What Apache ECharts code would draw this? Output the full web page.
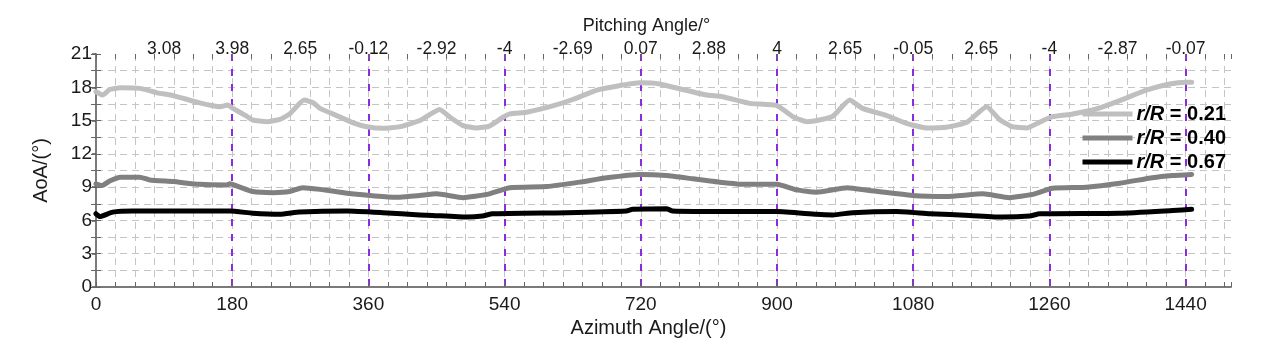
<!DOCTYPE html>
<html>
<head>
<meta charset="utf-8">
<script src="https://cdn.jsdelivr.net/npm/echarts@6/dist/echarts.min.js"></script>
<style>
html,body{margin:0;padding:0;background:#fff;}
#c{width:1265px;height:347px;}
</style>
</head>
<body>
<div id="c"></div>
<script>
// ---- data ----
var seriesNames = ['r/R = 0.21', 'r/R = 0.40', 'r/R = 0.67'];

var lightAz  = [0, 9, 18, 32, 58, 81, 102, 137, 164, 174, 181, 199, 207, 226, 243, 256, 275, 287, 296, 313, 340, 358, 379, 402, 428, 454, 468, 485, 503, 520, 538, 547, 569, 600, 630, 662, 688, 719, 745, 775, 807, 828, 864, 900, 921, 940, 956, 974, 996, 1013, 1045, 1071, 1098, 1124, 1151, 1177, 1194, 1211, 1230, 1247, 1264, 1291, 1322, 1353, 1388, 1419, 1441, 1448];
var lightAoA = [17.6, 17.3, 17.8, 17.95, 17.9, 17.5, 17.25, 16.6, 16.25, 16.4, 16.1, 15.4, 15.05, 14.9, 15.1, 15.6, 16.85, 16.6, 16.1, 15.6, 14.8, 14.45, 14.3, 14.45, 15.0, 16.0, 15.3, 14.55, 14.33, 14.5, 15.3, 15.6, 15.75, 16.25, 16.9, 17.75, 18.1, 18.4, 18.3, 17.8, 17.3, 17.15, 16.55, 16.35, 15.35, 14.9, 15.05, 15.4, 16.85, 16.1, 15.45, 14.75, 14.33, 14.4, 14.85, 16.25, 15.1, 14.45, 14.33, 14.85, 15.35, 15.6, 16.05, 16.8, 17.75, 18.3, 18.45, 18.45];

var midAz  = [0, 8, 18, 32, 58, 71, 102, 137, 173, 177, 190, 207, 234, 256, 273, 296, 332, 362, 392, 402, 428, 450, 485, 517, 547, 596, 639, 675, 719, 754, 789, 824, 860, 900, 926, 952, 993, 1022, 1079, 1124, 1172, 1207, 1238, 1264, 1309, 1353, 1396, 1423, 1448];
var midAoA = [9.3, 9.15, 9.55, 9.9, 9.9, 9.65, 9.5, 9.25, 9.2, 9.3, 9.0, 8.6, 8.5, 8.6, 8.95, 8.8, 8.45, 8.25, 8.1, 8.1, 8.25, 8.4, 8.05, 8.35, 8.95, 9.05, 9.45, 9.85, 10.15, 10.05, 9.75, 9.45, 9.25, 9.25, 8.75, 8.55, 8.95, 8.7, 8.25, 8.15, 8.4, 8.05, 8.35, 8.9, 9.0, 9.35, 9.85, 10.05, 10.15];

var darkAz  = [0, 5, 22, 49, 94, 177, 207, 243, 269, 332, 379, 428, 445, 490, 511, 524, 622, 701, 709, 754, 762, 841, 900, 952, 974, 1000, 1058, 1102, 1155, 1198, 1234, 1247, 1353, 1423, 1448];
var darkAoA = [6.6, 6.35, 6.75, 6.85, 6.85, 6.85, 6.65, 6.55, 6.75, 6.85, 6.7, 6.5, 6.45, 6.3, 6.4, 6.6, 6.7, 6.85, 7.0, 7.05, 6.85, 6.8, 6.8, 6.55, 6.5, 6.7, 6.8, 6.6, 6.45, 6.3, 6.4, 6.6, 6.65, 6.9, 7.0];

var bottomTicks = [0, 180, 360, 540, 720, 900, 1080, 1260, 1440];
var pitchAz     = [90, 180, 270, 360, 450, 540, 630, 720, 810, 900, 990, 1080, 1170, 1260, 1350, 1440];
var pitchLabels = ['3.08', '3.98', '2.65', '-0.12', '-2.92', '-4', '-2.69', '0.07', '2.88', '4', '2.65', '-0.05', '2.65', '-4', '-2.87', '-0.07'];
var yTicks = [0, 3, 6, 9, 12, 15, 18, 21];

// ---- chart ----
function zip(a, b) { return a.map(function (v, i) { return [v, b[i]]; }); }

var FONT = '"Liberation Sans", Arial, sans-serif';
var XMAX = 1500, MINOR = 180 / 7;
var gridDash = { color: '#c4c4c4', width: 1, type: [7, 5] };
var frameColor = '#7a7a7a';

var chart = echarts.init(document.getElementById('c'));
var option = {
  backgroundColor: '#fff',
  animation: false,
  textStyle: { fontFamily: FONT },
  grid: { left: 96, right: 34, top: 54, bottom: 60, containLabel: false },
  xAxis: [
    { // 0 minor bottom: gray vertical grid + inner ticks
      type: 'value', position: 'bottom', min: 0, max: XMAX, interval: MINOR,
      axisLine: { show: false }, axisLabel: { show: false },
      axisTick: { show: true, inside: true, length: 5, lineStyle: { color: '#666', width: 1 } },
      splitLine: { show: true, showMinLine: false, showMaxLine: false, lineStyle: gridDash }
    },
    { // 1 main bottom
      type: 'value', position: 'bottom', min: 0, max: XMAX, interval: 180,
      axisLine: { show: true, lineStyle: { color: '#555', width: 1.5 } },
      axisTick: { show: false },
      axisLabel: {
        show: true, fontSize: 19, color: '#1a1a1a', margin: 8, fontFamily: FONT,
        formatter: function (v) { return bottomTicks.indexOf(v) >= 0 ? String(v) : ''; }
      },
      splitLine: { show: true, showMinLine: false, showMaxLine: false,
        lineStyle: { color: '#8a2be2', width: 2, type: [7, 8] } },
      name: 'Azimuth Angle/(°)', nameLocation: 'middle', nameGap: 23,
      nameTextStyle: { fontSize: 20, color: '#1a1a1a', fontFamily: FONT, padding: [0, 30, 0, 0] }
    },
    { // 2 top pitching labels
      type: 'value', position: 'top', min: 0, max: XMAX, interval: 90,
      axisLine: { show: true, lineStyle: { color: frameColor, width: 1.5 } },
      axisTick: { show: false },
      splitLine: { show: false },
      axisLabel: {
        show: true, fontSize: 17.5, color: '#1a1a1a', margin: -4, fontFamily: FONT,
        formatter: function (v) { var i = pitchAz.indexOf(v); return i >= 0 ? pitchLabels[i] : ''; }
      },
      name: 'Pitching Angle/°', nameLocation: 'middle', nameGap: 9,
      nameTextStyle: { fontSize: 18, color: '#1a1a1a', fontFamily: FONT, padding: [0, 34, 0, 0] }
    },
    { // 3 top minor ticks
      type: 'value', position: 'top', min: 0, max: XMAX, interval: MINOR,
      axisLine: { show: false }, axisLabel: { show: false }, splitLine: { show: false },
      axisTick: { show: true, inside: true, length: 5, lineStyle: { color: '#666', width: 1 } }
    }
  ],
  yAxis: [
    { // 0 minor left: horizontal gray grid + inner ticks
      type: 'value', position: 'left', min: 0, max: 21, interval: 1.5,
      axisLine: { show: false }, axisLabel: { show: false },
      axisTick: { show: true, inside: true, length: 5, lineStyle: { color: '#666', width: 1 } },
      splitLine: { show: true, showMinLine: false, showMaxLine: false, lineStyle: gridDash }
    },
    { // 1 main left
      type: 'value', position: 'left', min: 0, max: 21, interval: 3,
      axisLine: { show: true, lineStyle: { color: '#555', width: 1.5 } },
      axisTick: { show: true, inside: false, length: 4, lineStyle: { color: '#555', width: 1.5 } },
      splitLine: { show: false },
      axisLabel: {
        show: true, fontSize: 19, color: '#1a1a1a', margin: 4, fontFamily: FONT,
        formatter: function (v) { return yTicks.indexOf(v) >= 0 ? String(v) : ''; }
      },
      name: 'AoA/(°)', nameLocation: 'middle', nameGap: 45,
      nameTextStyle: { fontSize: 20, color: '#1a1a1a', fontFamily: FONT }
    },
    { // 2 right frame
      type: 'value', position: 'right', min: 0, max: 21, interval: 1.5,
      axisLine: { show: true, lineStyle: { color: frameColor, width: 1.5 } },
      axisLabel: { show: false }, splitLine: { show: false },
      axisTick: { show: true, inside: true, length: 5, lineStyle: { color: '#666', width: 1 } }
    }
  ],
  legend: {
    orient: 'vertical', right: 34, top: 99,
    icon: 'rect', itemWidth: 50, itemHeight: 5, itemGap: 4,
    data: seriesNames,
    formatter: function (n) { return '{i|r/R}{b| = ' + n.split('= ')[1] + '}'; },
    textStyle: {
      color: '#000', fontFamily: FONT, fontSize: 20, fontWeight: 'bold', padding: [0, 0, 0, -1],
      rich: {
        i: { fontStyle: 'italic', fontWeight: 'bold', fontSize: 20, fontFamily: FONT, color: '#000' },
        b: { fontWeight: 'bold', fontSize: 20, fontFamily: FONT, color: '#000' }
      }
    }
  },
  series: [
    { name: seriesNames[0], type: 'line', xAxisIndex: 1, yAxisIndex: 1, data: zip(lightAz, lightAoA),
      symbol: 'none', smooth: 0.15, color: '#bfbfbf',
      lineStyle: { color: '#bfbfbf', width: 5, cap: 'round', join: 'round' }, z: 3 },
    { name: seriesNames[1], type: 'line', xAxisIndex: 1, yAxisIndex: 1, data: zip(midAz, midAoA),
      symbol: 'none', smooth: 0.15, color: '#808080',
      lineStyle: { color: '#808080', width: 5, cap: 'round', join: 'round' }, z: 3 },
    { name: seriesNames[2], type: 'line', xAxisIndex: 1, yAxisIndex: 1, data: zip(darkAz, darkAoA),
      symbol: 'none', smooth: 0.15, color: '#000000',
      lineStyle: { color: '#000000', width: 5, cap: 'round', join: 'round' }, z: 3 }
  ]
};
chart.setOption(option);
</script>
</body>
</html>
